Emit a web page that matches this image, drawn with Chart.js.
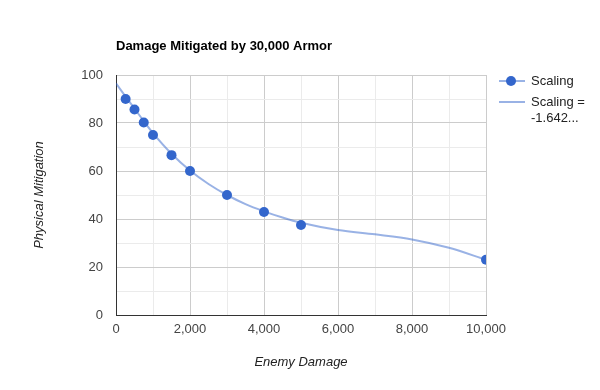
<!DOCTYPE html>
<html>
<head>
<meta charset="utf-8">
<title>Damage Mitigated by 30,000 Armor</title>
<script src="https://cdn.jsdelivr.net/npm/chart.js"></script>
<style>
  html, body { margin: 0; padding: 0; background: #fff; }
  #wrap { width: 600px; height: 390px; }
</style>
</head>
<body>
<div id="wrap"><canvas id="myChart" width="600" height="390"></canvas></div>
<script>
// data
var chartTitle = 'Damage Mitigated by 30,000 Armor';
var damage = [260, 500, 750, 1000, 1500, 2000, 3000, 4000, 5000, 10000];
var mitigation = [90, 85.6, 80.2, 75, 66.6, 60, 50, 42.9, 37.5, 23];

// trendline as drawn in the picture
var trendDamage = [0, 250, 500, 750, 1000, 1500, 2000, 2500, 3000, 3500, 4000, 4500, 5000, 6000, 7000, 8000, 9000, 10000];
var trendMitigation = [96.5, 91.2, 86, 80.8, 75.8, 67.2, 60.2, 54.6, 50, 46.2, 43.2, 40.6, 38.4, 35.4, 33.6, 31.5, 28, 23];

var xTicks = [0, 2000, 4000, 6000, 8000, 10000];
var yTicks = [0, 20, 40, 60, 80, 100];

var FONT = "'Liberation Sans', Arial, sans-serif";

var points = damage.map(function (d, i) { return { x: d, y: mitigation[i] }; });
var trend = trendDamage.map(function (d, i) { return { x: d, y: trendMitigation[i] }; });

// title + legend drawn like the original (left aligned title, wrapped legend)
var googleLook = {
    id: 'googleLook',
    afterDraw: function (chart) {
        var ctx = chart.ctx;
        var area = chart.chartArea;
        ctx.save();
        ctx.fillStyle = '#000';
        ctx.font = 'bold 13px ' + FONT;
        ctx.textBaseline = 'middle';
        ctx.textAlign = 'left';
        ctx.fillText(chartTitle, area.left, 46);

        var ds = chart.data.datasets;
        var lx = 499, ly = 81;
        // item 1 : line with dot
        ctx.strokeStyle = ds[0].borderColor;
        ctx.lineWidth = 1;
        ctx.beginPath();
        ctx.moveTo(lx, ly);
        ctx.lineTo(lx + 26, ly);
        ctx.stroke();
        ctx.fillStyle = ds[0].backgroundColor;
        ctx.beginPath();
        ctx.arc(lx + 12, ly, 5, 0, Math.PI * 2);
        ctx.fill();
        ctx.fillStyle = '#222';
        ctx.font = '13px ' + FONT;
        ctx.fillText(ds[0].label, lx + 32, ly);

        // item 2 : trend line, label wrapped on two lines
        var ly2 = 102;
        ctx.strokeStyle = ds[1].borderColor;
        ctx.lineWidth = 2;
        ctx.beginPath();
        ctx.moveTo(lx, ly2);
        ctx.lineTo(lx + 26, ly2);
        ctx.stroke();
        var parts = ds[1].label.split(' = ');
        ctx.fillStyle = '#222';
        ctx.fillText(parts[0] + ' =', lx + 32, ly2);
        ctx.fillText(parts[1], lx + 32, ly2 + 16);
        ctx.restore();
    }
};

var myChart = document.getElementById('myChart').getContext('2d');
var myChart = new Chart(myChart, {
    type: 'scatter',
    data: {
        datasets: [{
            label: 'Scaling',
            data: points,
            showLine: false,
            pointRadius: 5,
            pointHoverRadius: 5,
            backgroundColor: '#3366cc',
            borderColor: '#3366cc',
            borderWidth: 0
        }, {
            label: 'Scaling = -1.642...',
            data: trend,
            showLine: true,
            pointRadius: 0,
            borderColor: 'rgba(51,102,204,0.5)',
            backgroundColor: 'rgba(51,102,204,0.5)',
            borderWidth: 2,
            cubicInterpolationMode: 'monotone'
        }]
    },
    options: {
        responsive: false,
        animation: false,
        devicePixelRatio: 1,
        layout: { padding: { top: 75, right: 114, left: 0, bottom: 0 } },
        plugins: {
            legend: { display: false },
            title: { display: false },
            tooltip: { enabled: false }
        },
        scales: {
            x: {
                type: 'linear',
                min: 0,
                max: 10000,
                afterFit: function (s) { s.height = 75; },
                border: { color: '#333', width: 1 },
                grid: {
                    drawTicks: false,
                    color: function (c) {
                        return c.tick && xTicks.indexOf(c.tick.value) >= 0 ? '#cccccc' : '#ebebeb';
                    }
                },
                ticks: {
                    stepSize: 1000,
                    autoSkip: false,
                    maxRotation: 0,
                    padding: 7,
                    color: '#444',
                    font: { family: FONT, size: 13 },
                    callback: function (v) {
                        return xTicks.indexOf(v) >= 0 ? v.toLocaleString('en-US') : '';
                    }
                },
                title: {
                    display: true,
                    text: 'Enemy Damage',
                    color: '#222',
                    font: { family: FONT, size: 13, style: 'italic' },
                    padding: { top: 0, bottom: 20 }
                }
            },
            y: {
                type: 'linear',
                min: 0,
                max: 100,
                afterFit: function (s) { s.width = 116; },
                border: { color: '#333', width: 1 },
                grid: {
                    drawTicks: false,
                    color: function (c) {
                        return c.tick && yTicks.indexOf(c.tick.value) >= 0 ? '#cccccc' : '#ebebeb';
                    }
                },
                ticks: {
                    stepSize: 10,
                    autoSkip: false,
                    padding: 13,
                    color: '#444',
                    font: { family: FONT, size: 13 },
                    callback: function (v) {
                        return yTicks.indexOf(v) >= 0 ? String(v) : '';
                    }
                },
                title: {
                    display: true,
                    text: 'Physical Mitigation',
                    color: '#222',
                    font: { family: FONT, size: 13, style: 'italic' },
                    padding: { top: 32, bottom: 0 }
                }
            }
        }
    },
    plugins: [googleLook]
});
</script>
</body>
</html>
